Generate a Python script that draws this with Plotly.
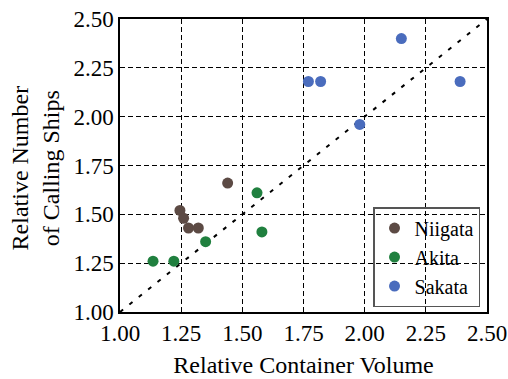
import plotly.graph_objects as go

niigata_x = [1.44, 1.245, 1.26, 1.28, 1.32]
niigata_y = [1.66, 1.52, 1.48, 1.43, 1.43]
akita_x = [1.56, 1.58, 1.35, 1.135, 1.22]
akita_y = [1.61, 1.41, 1.36, 1.26, 1.26]
sakata_x = [2.15, 1.77, 1.82, 1.98, 2.39]
sakata_y = [2.40, 2.18, 2.18, 1.96, 2.18]
ref_line = [1.0, 2.5]
ticks = [1.00, 1.25, 1.50, 1.75, 2.00, 2.25, 2.50]

font = "Liberation Serif"
fig = go.Figure()
fig.add_trace(go.Scatter(x=ref_line, y=ref_line, mode="lines",
                         line=dict(color="black", width=2, dash="4px,8px"),
                         showlegend=False, hoverinfo="skip"))
for name, xs, ys, c in [("Niigata", niigata_x, niigata_y, "#5c4a44"),
                        ("Akita", akita_x, akita_y, "#20803f"),
                        ("Sakata", sakata_x, sakata_y, "#4a6cbd")]:
    fig.add_trace(go.Scatter(x=xs, y=ys, mode="markers", name=name,
                             marker=dict(color=c, size=11)))

axis_common = dict(range=[1.0, 2.5], tickvals=ticks, ticktext=[f"{t:.2f}" for t in ticks],
                   showgrid=True, gridcolor="black", griddash="5px,3px", gridwidth=1,
                   showline=True, linecolor="black", linewidth=1.5, mirror=True,
                   zeroline=False, ticks="", ticklabeloverflow="allow", automargin=False,
                   tickfont=dict(size=23, color="black", family=font))
fig.update_layout(
    width=508, height=379,
    margin=dict(l=120, r=21, t=19, b=67),
    plot_bgcolor="white", paper_bgcolor="white",
    font=dict(family=font, color="black"),
    xaxis=dict(**axis_common,
               title=dict(text="Relative Container Volume", font=dict(size=24), standoff=11)),
    yaxis=dict(**axis_common),
    annotations=[dict(text="Relative Number<br>of Calling Ships", xref="paper", yref="paper",
                      x=-0.2316, y=0.49, xanchor="center", yanchor="middle",
                      textangle=-90, showarrow=False, font=dict(size=24, color="black"))],
    legend=dict(x=0.981, y=0.017, xanchor="right", yanchor="bottom",
                bgcolor="rgba(0,0,0,0)", bordercolor="#555", borderwidth=1.5,
                font=dict(size=20, color="black"), itemwidth=30,
                tracegroupgap=0),
)
fig.write_html("out.html", config={"displayModeBar": False},
               post_script="document.body.style.margin='0px';")
